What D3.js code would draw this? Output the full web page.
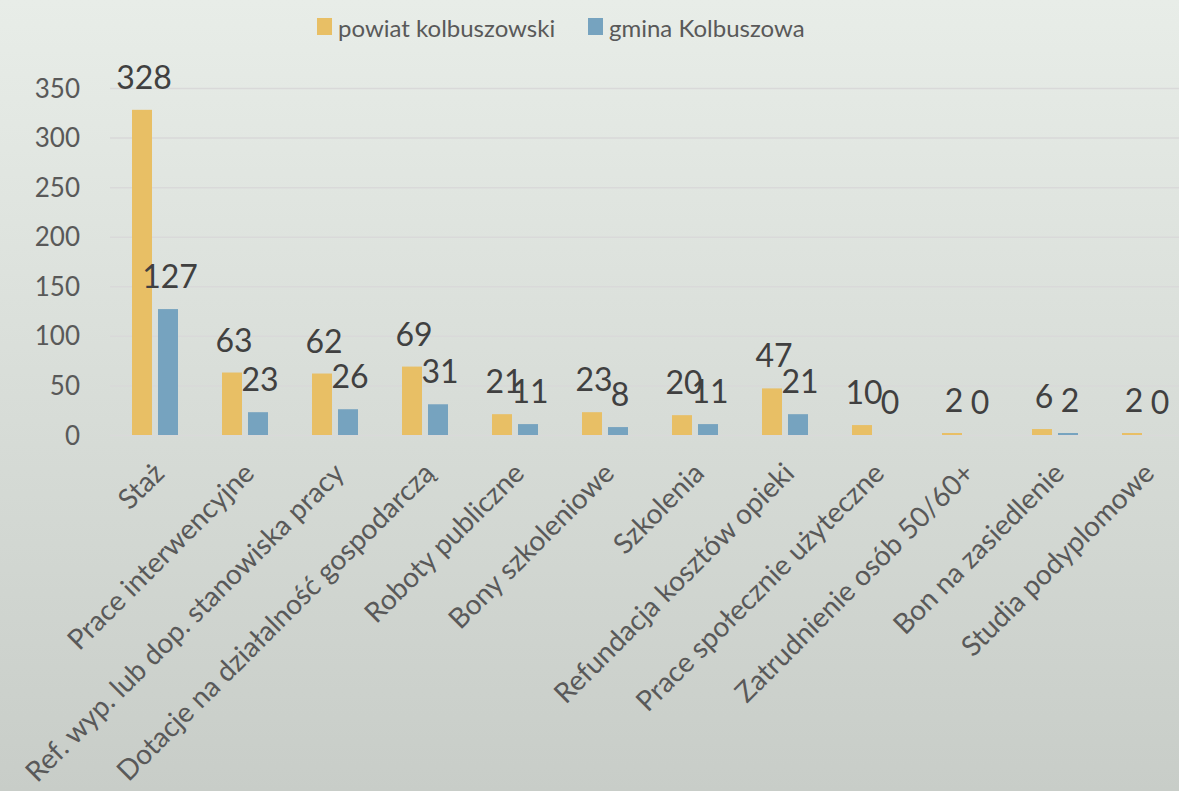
<!DOCTYPE html>
<html lang="pl">
<head>
<meta charset="UTF-8">
<title>Formy aktywizacji</title>
<style>
    body { margin: 0; overflow: hidden; }
    svg { display: block; }
    svg text { font-family: Lato, "Open Sans", sans-serif; }
    .grid line { stroke: #d9d9d9; stroke-width: 1.5; }
    .grid path { display: none; }
    .yaxis text { fill: #595959; font-size: 26px; }
    .xaxis text { fill: #595959; font-size: 28px; }
    .label { fill: #404040; font-size: 32px; }
</style>
</head>
<body>
<svg id="chart"></svg>
<script src="https://d3js.org/d3.v7.min.js"></script>
<script>
    // Data
    const categories = ["Staż", "Prace interwencyjne", "Ref. wyp. lub dop. stanowiska pracy",
        "Dotacje na działalność gospodarczą", "Roboty publiczne", "Bony szkoleniowe", "Szkolenia",
        "Refundacja kosztów opieki", "Prace społecznie użyteczne", "Zatrudnienie osób 50/60+",
        "Bon na zasiedlenie", "Studia podyplomowe"];
    const powiat = [328, 63, 62, 69, 21, 23, 20, 47, 10, 2, 6, 2];
    const gmina = [127, 23, 26, 31, 11, 8, 11, 21, 0, 0, 2, 0];
    const seriesNames = ["powiat kolbuszowski", "gmina Kolbuszowa"];
    const colors = ["#e8bf65", "#76a3bf"];
    const yTicks = [0, 50, 100, 150, 200, 250, 300, 350];

    const width = 1179, height = 791;
    const svg = d3.select("#chart").attr("width", width).attr("height", height);

    const defs = svg.append("defs");
    const grad = defs.append("linearGradient").attr("id", "bg")
        .attr("x1", 0).attr("y1", 0).attr("x2", 0).attr("y2", 1);
    grad.append("stop").attr("offset", "0%").attr("stop-color", "#e8ede8");
    grad.append("stop").attr("offset", "100%").attr("stop-color", "#c8cdc8");
    svg.append("rect").attr("width", width).attr("height", height).attr("fill", "url(#bg)");

    const x0 = d3.scaleBand().domain(categories).range([110, 1190]);
    const y = d3.scaleLinear().domain([0, 350]).range([435, 88]);

    // gridlines
    svg.append("g").attr("class", "grid")
        .attr("transform", "translate(110,0)")
        .call(d3.axisRight(y).tickValues(yTicks).tickSize(1080).tickFormat(""));

    // y axis labels
    const ya = svg.append("g").attr("class", "yaxis")
        .attr("transform", "translate(80,0)")
        .call(d3.axisLeft(y).tickValues(yTicks).tickSize(0).tickPadding(0));
    ya.select(".domain").remove();
    ya.selectAll("text").attr("dy", "0.35em");

    // bars
    const data = [powiat, gmina];
    const offsets = [-23, 3];
    data.forEach((vals, s) => {
        const g = svg.append("g");
        g.selectAll("rect").data(vals).enter().append("rect")
            .attr("x", (d, i) => x0(categories[i]) + x0.bandwidth() / 2 + offsets[s])
            .attr("y", d => y(d))
            .attr("width", 20)
            .attr("height", d => y(0) - y(d))
            .attr("fill", colors[s]);
        g.selectAll("text").data(vals).enter().append("text")
            .attr("class", "label")
            .attr("text-anchor", "middle")
            .attr("x", (d, i) => x0(categories[i]) + x0.bandwidth() / 2 + offsets[s] + 12)
            .attr("y", d => y(d) - 21)
            .text(d => d);
    });

    // category labels
    const xa = svg.append("g").attr("class", "xaxis")
        .attr("transform", "translate(0,435)")
        .call(d3.axisBottom(x0).tickSize(0).tickPadding(0));
    xa.select(".domain").remove();
    xa.selectAll("text")
        .attr("text-anchor", "end")
        .attr("transform", "translate(4,33) rotate(-45)")
        .attr("dy", "0.35em");

    // legend
    const legend = svg.append("g").attr("transform", "translate(317,0)");
    const lx = [0, 271];
    seriesNames.forEach((n, i) => {
        legend.append("rect").attr("x", lx[i]).attr("y", 18).attr("width", 15).attr("height", 17)
            .attr("fill", colors[i]);
        legend.append("text").attr("x", lx[i] + 21).attr("y", 37)
            .attr("fill", "#595959").style("font-size", "24px").text(n);
    });
</script>
</body>
</html>
